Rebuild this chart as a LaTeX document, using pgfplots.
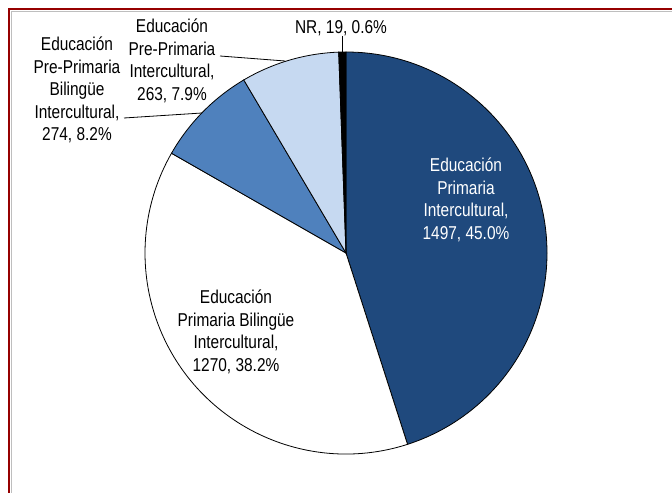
\documentclass[border=0pt]{standalone}
\usepackage{pgfplots}
\pgfplotsset{compat=1.18}
\usepackage{fontspec}
\setmainfont[FakeStretch=0.83]{Liberation Sans}

\definecolor{dblue}{RGB}{31,73,125}
\definecolor{mblue}{RGB}{79,129,189}
\definecolor{lblue}{RGB}{198,217,241}
\definecolor{fred}{RGB}{150,0,0}
\definecolor{fgray}{RGB}{190,190,190}

\newcommand\lab{\fontsize{18.6bp}{22.5bp}\selectfont}

\begin{document}
\begin{tikzpicture}
% counts per category (clockwise from 12 o'clock)
\def\vA{1497}% Primaria Intercultural
\def\vB{1270}% Primaria Bilingue Intercultural
\def\vC{274}%  Pre-Primaria Bilingue Intercultural
\def\vD{263}%  Pre-Primaria Intercultural
\def\vE{19}%   NR
\pgfmathsetmacro\tot{\vA+\vB+\vC+\vD+\vE}
\pgfmathsetmacro\aA{90}
\pgfmathsetmacro\aB{\aA-\vA/\tot*360}
\pgfmathsetmacro\aC{\aB-\vB/\tot*360}
\pgfmathsetmacro\aD{\aC-\vC/\tot*360}
\pgfmathsetmacro\aE{\aD-\vD/\tot*360}
\pgfmathsetmacro\aF{\aE-\vE/\tot*360}
\def\cx{346}\def\cy{240}\def\R{201bp}
\begin{axis}[
    width=672bp, height=493bp, scale only axis,
    xmin=0, xmax=672, ymin=0, ymax=493,
    hide axis, clip=false,
]
% frame
\draw[fgray, line width=1.5bp] (axis cs:11.5,-10) -- (axis cs:11.5,481.5) -- (axis cs:690,481.5);
\draw[fred, line width=2bp] (axis cs:9,-10) -- (axis cs:9,483.5) -- (axis cs:690,483.5);
% slices
\filldraw[fill=dblue, draw=black, line width=0.8bp] (axis cs:\cx,\cy) -- ++(\aA:\R) arc[start angle=\aA, end angle=\aB, radius=\R] -- cycle;
\filldraw[fill=white, draw=black, line width=0.8bp] (axis cs:\cx,\cy) -- ++(\aB:\R) arc[start angle=\aB, end angle=\aC, radius=\R] -- cycle;
\filldraw[fill=mblue, draw=black, line width=0.8bp] (axis cs:\cx,\cy) -- ++(\aC:\R) arc[start angle=\aC, end angle=\aD, radius=\R] -- cycle;
\filldraw[fill=lblue, draw=black, line width=0.8bp] (axis cs:\cx,\cy) -- ++(\aD:\R) arc[start angle=\aD, end angle=\aE, radius=\R] -- cycle;
\filldraw[fill=black, draw=black, line width=0.8bp] (axis cs:\cx,\cy) -- ++(\aE:\R) arc[start angle=\aE, end angle=\aF, radius=\R] -- cycle;
% leader lines
\draw[black, line width=0.8bp] (axis cs:342,457) -- (axis cs:342,441);
\draw[black, line width=0.8bp] (axis cs:220,437) -- (axis cs:285,432);
\draw[black, line width=0.8bp] (axis cs:124,375) -- (axis cs:202,380);
% labels
\node[align=center, font=\lab, text=white] at (axis cs:466,293) {Educación\\Primaria\\Intercultural,\\1497, 45.0\%};
\node[align=center, font=\lab] at (axis cs:236,161) {Educación\\Primaria Bilingüe\\Intercultural,\\1270, 38.2\%};
\node[align=center, font=\lab] at (axis cs:77,403) {Educación\\Pre-Primaria\\Bilingüe\\Intercultural,\\274, 8.2\%};
\node[align=center, font=\lab] at (axis cs:172,432) {Educación\\Pre-Primaria\\Intercultural,\\263, 7.9\%};
\node[font=\lab] at (axis cs:341,465) {NR, 19, 0.6\%};
\end{axis}
\pgfresetboundingbox
\path (current axis.south west) rectangle (current axis.north east);
\end{tikzpicture}
\end{document}
